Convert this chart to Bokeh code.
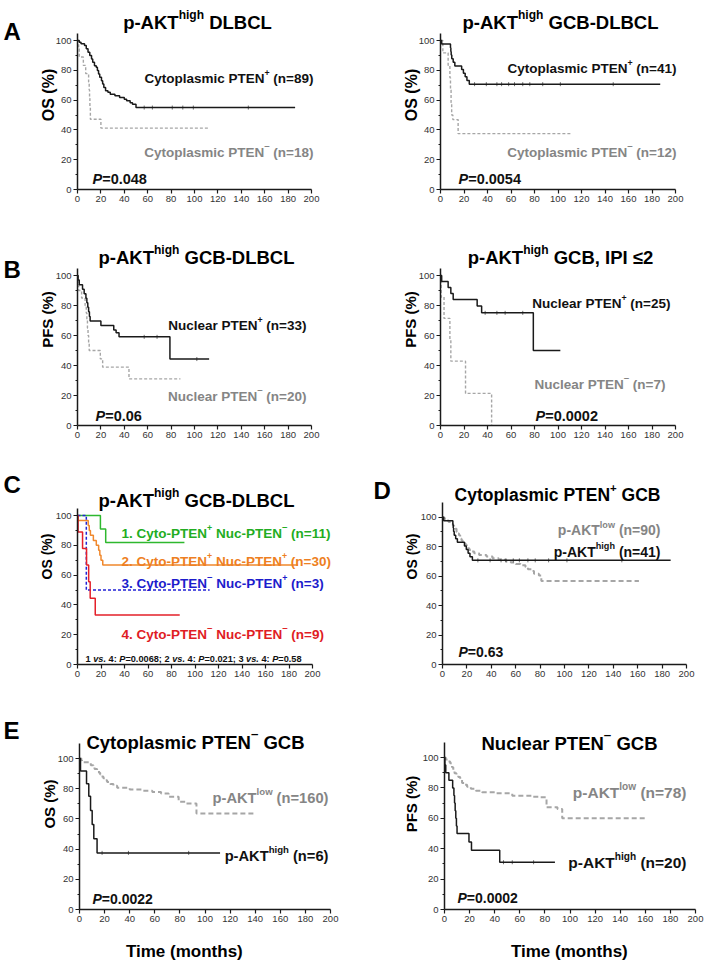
import math
from bokeh.plotting import figure
from bokeh.models import Range1d, FixedTicker, Label
from bokeh.layouts import row, column
from bokeh.embed import file_html
from bokeh.resources import INLINE

FONT = "Liberation Sans"

# ---------------- data ----------------
x_ticks = [0, 20, 40, 60, 80, 100, 120, 140, 160, 180, 200]
y_ticks = [0, 20, 40, 60, 80, 100]
y_minor = [10, 30, 50, 70, 90]

# A left: p-AKT high DLBCL, OS
a1_pos_t = [0, 1.5, 3, 6, 7.5, 9, 10.5, 12, 13, 14.5, 16, 17, 18, 19, 20.5, 21.5, 22.5, 24, 26, 28, 32, 36, 40, 42, 45, 47, 50, 186]
a1_pos_s = [100, 98.9, 97.8, 96.6, 94.4, 92.1, 89.9, 87.6, 85.4, 83.1, 82.0, 79.8, 77.5, 75.3, 73.0, 70.8, 68.5, 66.3, 65.2, 64.0, 62.9, 61.8, 60.6, 59.5, 58.3, 57.2, 55.0, 55.0]
a1_pos_cens = [57, 64, 81, 90, 99, 146]
a1_neg_t = [0, 1, 1.5, 5, 7, 9.5, 10, 10.3, 10.6, 11, 20, 112]
a1_neg_s = [100, 94.4, 88.9, 83.3, 77.8, 72.2, 66.7, 61.1, 55.6, 47.1, 41.2, 41.2]

# A right / D: p-AKT high, cytoplasmic PTEN+ GCB (n=41)
cpos_hi_t = [0, 1, 8.5, 8.8, 9.1, 9.6, 10.8, 12.2, 18, 19.5, 21, 22.5, 24.5, 187]
cpos_hi_s = [100, 97.6, 95.1, 92.7, 90.2, 87.8, 85.4, 82.9, 80.5, 78.0, 75.6, 73.2, 70.7, 70.7]
cpos_hi_cens = [29, 39, 48, 52, 58, 63, 70, 76, 87, 102, 147]
a2_neg_t = [0, 2, 6.5, 8, 8.5, 9, 9.5, 10.5, 15, 112]
a2_neg_s = [100, 91.7, 83.3, 75.0, 66.7, 58.3, 50.0, 46.9, 37.5, 37.5]

# B left: p-AKT high GCB, PFS
b1_pos_t = [0, 0.5, 1.5, 4.3, 5.7, 7.2, 8, 8.8, 9.5, 10.2, 10.8, 20, 31, 33, 35.5, 79, 112.5]
b1_pos_s = [100, 97.0, 93.9, 90.9, 87.9, 84.8, 81.8, 78.8, 75.8, 72.7, 69.7, 66.7, 63.6, 61.9, 59.1, 44.3, 44.3]
b1_pos_cens = [57, 68, 102]
# p-AKT high, nuclear PTEN- GCB (n=20): B left grey and E right black
nneg_hi_t = [0, 0.3, 1, 3.5, 6.5, 7.5, 8, 8.5, 9, 9.5, 10, 19.5, 21.5, 44, 88]
nneg_hi_s = [100, 95, 90, 85, 80, 75, 70, 65, 60, 55, 50, 44.4, 38.9, 31.1, 31.1]
nneg_hi_cens = [47, 54, 71]

# B right: p-AKT high GCB, IPI <=2, PFS
b2_pos_t = [0, 1, 6.5, 8.8, 10.8, 31.2, 35, 79, 102]
b2_pos_s = [100, 96, 92, 88, 84, 79.6, 75.1, 50, 50]
b2_pos_cens = [38, 48, 55, 70]
b2_neg_t = [0, 0.5, 3, 8, 8.8, 21.3, 43.5]
b2_neg_s = [100, 85.7, 71.4, 57.1, 42.9, 21.4, 0]

# C: four groups
c1_t = [0, 19.5, 24, 91]
c1_s = [100, 90.9, 81.8, 81.8]
c2_t = [0, 0.5, 9.1, 10, 11, 13.5, 16, 18, 19, 20, 21.5, 187.5]
c2_s = [100, 96.7, 93.3, 90.0, 86.7, 83.3, 80.0, 76.7, 73.3, 70.0, 66.7, 66.7]
c3_t = [0, 7.5, 112.5]
c3_s = [100, 50, 50]
c4_t = [0, 0.5, 4.3, 7.7, 9.5, 10.8, 15.1, 87]
c4_s = [100, 88.9, 77.8, 66.7, 55.6, 44.4, 33.3, 33.3]

# D: p-AKT low, cytoplasmic PTEN+ GCB (n=90)
d_low_t = [0, 1.5, 3, 5, 7, 8.5, 9.5, 10.5, 11.5, 12.5, 13.5, 14.5, 15.5, 16.5, 17.5, 19, 20, 21, 22, 24, 26, 30, 36, 41, 46, 52, 56, 60, 64, 68, 70, 73, 75, 79, 81, 161]
d_low_s = [100, 98.9, 97.8, 96.7, 95.6, 94.4, 93.3, 92.2, 90.0, 88.9, 87.8, 85.6, 84.4, 83.3, 82.2, 81.1, 80.0, 78.9, 77.8, 76.7, 75.6, 74.4, 73.3, 72.2, 71.1, 70.0, 69.2, 68.2, 67.3, 66.2, 64.6, 63.4, 61.6, 60.4, 56.6, 56.6]

# E left: cytoplasmic PTEN- GCB
e1_hi_t = [0, 0.8, 5.6, 7.4, 8.8, 10.1, 11.4, 14, 112]
e1_hi_s = [100, 91.7, 83.3, 75.0, 65.6, 56.3, 46.9, 37.5, 37.5]
e1_hi_cens = [18, 39, 87]
e1_low_t = [0, 1.5, 2, 7.5, 9, 11, 12, 14, 15.5, 16.5, 17.5, 19, 20.5, 22, 24.5, 27, 30, 40, 50, 58, 65, 71, 79, 85, 93.2, 139]
e1_low_s = [100, 98.8, 97.5, 96.9, 95.6, 94.4, 93.1, 91.9, 90.6, 89.4, 88.1, 86.9, 85.6, 84.4, 83.1, 81.9, 80.6, 79.4, 78.7, 77.8, 76.9, 74.6, 71.3, 70.2, 63.5, 63.5]

# E right: nuclear PTEN- GCB
e2_low_t = [0, 1, 3, 4.5, 6, 7, 8, 9.5, 11, 12.5, 14, 16, 18, 21, 25, 30, 40, 54, 70, 76, 81.3, 90, 93.8, 161.5]
e2_low_s = [100, 98.7, 97.4, 96.2, 93.6, 91.0, 89.7, 88.5, 87.2, 85.9, 83.3, 82.0, 80.8, 79.5, 78.2, 77.1, 76.4, 74.9, 74.2, 73.8, 67.2, 66.2, 60.0, 60.0]

# ---------------- styling helpers ----------------
BLACK = "#1a1a1a"
GREY_LINE = "#a6a6a6"
GREY_TEXT = "#858585"
GREEN = "#2eb82e"
ORANGE = "#f0882c"
BLUE = "#2222d6"
RED = "#e4202a"

BOLD_W = {' ': 278, '%': 889, '(': 333, ')': 333, '+': 584, ',': 278, '-': 333, '.': 278,
          ':': 333, ';': 333, '=': 584, '\u2264': 549, '\u2013': 556,
          'A': 722, 'B': 722, 'C': 722, 'D': 722, 'E': 667, 'F': 611, 'G': 778, 'H': 722, 'I': 278,
          'K': 722, 'L': 611, 'M': 833, 'N': 722, 'O': 778, 'P': 667, 'S': 667, 'T': 611, 'U': 722,
          'a': 556, 'b': 611, 'c': 556, 'd': 611, 'e': 556, 'f': 333, 'g': 611, 'h': 611, 'i': 278,
          'k': 556, 'l': 278, 'm': 889, 'n': 611, 'o': 611, 'p': 611, 'r': 389, 's': 556, 't': 333,
          'u': 611, 'v': 556, 'w': 778, 'y': 556}
for d in "0123456789":
    BOLD_W[d] = 556


def tw(s, size):
    return sum(BOLD_W.get(ch, 556) for ch in s) * size / 1000.0


def parse(markup):
    segs = []
    buf = ""
    i = 0
    while i < len(markup):
        ch = markup[i]
        if ch == "^":
            if buf:
                segs.append((buf, "n")); buf = ""
            nxt = markup[i + 1]
            if nxt == "{":
                j = markup.index("}", i)
                segs.append((markup[i + 2:j], "sup"))
                i = j + 1
                continue
            elif nxt == "+":
                segs.append(("+", "sup"))
            else:
                segs.append(("\u2013", "dash"))
            i += 2
            continue
        if ch == "*":
            if buf:
                segs.append((buf, "n")); buf = ""
            j = markup.index("*", i + 1)
            segs.append((markup[i + 1:j], "it"))
            i = j + 1
            continue
        buf += ch
        i += 1
    if buf:
        segs.append((buf, "n"))
    return segs


def rich(P, markup, x, base, size, color, align="left"):
    """x, base are page pixel positions; converted to the panel's own data units."""
    items = []
    for txt, kind in parse(markup):
        if kind == "sup":
            sz, rise = size * 0.65, size * 0.40
        elif kind == "dash":
            sz, rise = size * 0.72, size * 0.50
        else:
            sz, rise = size, 0.0
        items.append((txt, kind, sz, rise, tw(txt, sz)))
    total = sum(it[4] for it in items)
    if align == "center":
        cur = x - total / 2.0
    elif align == "right":
        cur = x - total
    else:
        cur = x
    for txt, kind, sz, rise, w in items:
        lead = len(txt) - len(txt.lstrip(" "))
        t = txt.strip(" ")
        if t:
            P["p"].add_layout(Label(
                x=P["dx"](cur + tw(" " * lead, sz)), y=P["dy"](base - rise), text=t,
                text_font=FONT, text_font_size="%.1fpx" % sz,
                text_font_style="bold italic" if kind == "it" else "bold",
                text_color=color, text_align="left", text_baseline="alphabetic"))
        cur += w


def make_panel(fx, fy, fw, fh, left, x200, bottom, y100, ytop, ylabel, ylsize, ylstand):
    xr_end = 200.0 * (fx + fw - left) / (x200 - left)
    yr_end = 100.0 * (bottom - fy) / (bottom - y100)
    p = figure(width=fw, height=fh, x_range=Range1d(0, xr_end), y_range=Range1d(0, yr_end),
               output_backend="svg", toolbar_location=None,
               min_border_left=left - fx, min_border_right=0,
               min_border_top=0, min_border_bottom=fy + fh - bottom)
    p.outline_line_color = None
    p.grid.visible = False
    p.background_fill_color = "white"
    p.border_fill_color = "white"
    for ax in (p.xaxis[0], p.yaxis[0]):
        ax.axis_line_width = 1.5
        ax.axis_line_color = BLACK
        ax.major_tick_line_color = BLACK
        ax.major_tick_line_width = 1.2
        ax.minor_tick_line_color = BLACK
        ax.major_tick_out = 4
        ax.major_tick_in = 0
        ax.minor_tick_out = 2
        ax.minor_tick_in = 0
        ax.major_label_text_font = FONT
        ax.major_label_text_font_size = "9.5px"
        ax.major_label_text_color = "#333333"
        ax.major_label_standoff = 2
    p.xaxis.ticker = FixedTicker(ticks=x_ticks)
    p.xaxis.minor_tick_line_color = None
    p.xaxis.bounds = (0, 200)
    p.yaxis.ticker = FixedTicker(ticks=y_ticks, minor_ticks=y_minor)
    p.yaxis.bounds = (0, ytop)
    p.yaxis.axis_label = ylabel
    p.yaxis.axis_label_text_font = FONT
    p.yaxis.axis_label_text_font_style = "bold"
    p.yaxis.axis_label_text_font_size = "%dpx" % ylsize
    p.yaxis.axis_label_text_color = "black"
    p.yaxis.axis_label_standoff = ylstand
    return dict(p=p,
                dx=lambda px: (px - left) / (x200 - left) * 200.0,
                dy=lambda py: (bottom - py) / (bottom - y100) * 100.0)


def make_strip(fx, fy, fw, fh):
    p = figure(width=fw, height=fh, x_range=Range1d(0, fw), y_range=Range1d(0, fh),
               x_axis_type=None, y_axis_type=None, output_backend="svg",
               toolbar_location=None, min_border=0)
    p.outline_line_color = None
    p.background_fill_color = "white"
    p.border_fill_color = "white"
    return dict(p=p, dx=lambda px: px - fx, dy=lambda py: (fy + fh) - py)


def km(P, t, s, color, width=1.5, dash="solid", cens=None):
    P["p"].step(t, s, mode="after", line_color=color, line_width=width, line_dash=dash)
    if cens:
        ys = []
        for c in cens:
            v = s[0]
            for ti, si in zip(t, s):
                if ti <= c:
                    v = si
            ys.append(v)
        P["p"].scatter(cens, ys, marker="dash", angle=math.pi / 2, size=4,
                       line_color=color, line_width=0.8, line_alpha=0.8)


# ---------------- row A ----------------
LA = make_strip(0, 0, 26, 213)
rich(LA, "A", 3, 35, 24, "black")

A1 = make_panel(26, 0, 327, 213, 77, 311, 189, 40, 105, "OS (%)", 16, -4)
km(A1, a1_neg_t, a1_neg_s, GREY_LINE, 1.4, "3 2")
km(A1, a1_pos_t, a1_pos_s, BLACK, 1.5, cens=a1_pos_cens)
rich(A1, "p-AKT^{high} DLBCL", 197, 22, 18.5, "black", "center")
rich(A1, "Cytoplasmic PTEN^+ (n=89)", 313, 78, 13.5, "#111111", "right")
rich(A1, "Cytoplasmic PTEN^- (n=18)", 313, 152, 13.5, GREY_TEXT, "right")
rich(A1, "*P*=0.048", 92, 178, 14.5, "#111111")

A2 = make_panel(353, 0, 353, 213, 440, 675, 189, 40, 105, "OS (%)", 16, -4)
km(A2, a2_neg_t, a2_neg_s, GREY_LINE, 1.4, "3 2")
km(A2, cpos_hi_t, cpos_hi_s, BLACK, 1.5, cens=cpos_hi_cens)
rich(A2, "p-AKT^{high} GCB-DLBCL", 560, 22, 18.5, "black", "center")
rich(A2, "Cytoplasmic PTEN^+ (n=41)", 676, 68, 13.5, "#111111", "right")
rich(A2, "Cytoplasmic PTEN^- (n=12)", 676, 152, 13.5, GREY_TEXT, "right")
rich(A2, "*P*=0.0054", 458, 178, 14.5, "#111111")

# ---------------- row B ----------------
LB = make_strip(0, 213, 26, 235)
rich(LB, "B", 3, 275, 24, "black")

B1 = make_panel(26, 213, 327, 235, 77, 311, 425, 275, 105, "PFS (%)", 15, -3)
km(B1, nneg_hi_t, nneg_hi_s, GREY_LINE, 1.4, "3 2")
km(B1, b1_pos_t, b1_pos_s, BLACK, 1.5, cens=b1_pos_cens)
rich(B1, "p-AKT^{high} GCB-DLBCL", 196, 257, 18.5, "black", "center")
rich(B1, "Nuclear PTEN^+ (n=33)", 306, 325, 13.5, "#111111", "right")
rich(B1, "Nuclear PTEN^- (n=20)", 306, 396, 13.5, GREY_TEXT, "right")
rich(B1, "*P*=0.06", 95, 415, 14.5, "#111111")

B2 = make_panel(353, 213, 353, 235, 440, 675, 425, 275, 105, "PFS (%)", 15, -3)
km(B2, b2_neg_t, b2_neg_s, GREY_LINE, 1.4, "3 2")
km(B2, b2_pos_t, b2_pos_s, BLACK, 1.5, cens=b2_pos_cens)
rich(B2, "p-AKT^{high} GCB, IPI \u22642", 560, 257, 18.5, "black", "center")
rich(B2, "Nuclear PTEN^+ (n=25)", 670, 303, 13.5, "#111111", "right")
rich(B2, "Nuclear PTEN^- (n=7)", 665, 384, 13.5, GREY_TEXT, "right")
rich(B2, "*P*=0.0002", 535, 415, 14.5, "#111111")

# ---------------- row C / D ----------------
LC = make_strip(0, 448, 26, 250)
rich(LC, "C", 3, 490, 24, "black")

C = make_panel(26, 448, 327, 250, 77, 312, 664, 515, 105, "OS (%)", 14, -2)
km(C, c1_t, c1_s, GREEN, 1.5)
km(C, c2_t, c2_s, ORANGE, 1.5)
km(C, c3_t, c3_s, BLUE, 1.5, "3 2")
km(C, c4_t, c4_s, RED, 1.5)
rich(C, "p-AKT^{high} GCB-DLBCL", 196, 500, 18.5, "black", "center")
rich(C, "1. Cyto-PTEN^+ Nuc-PTEN^- (n=11)", 121, 533, 13.5, "#22ad22")
rich(C, "2. Cyto-PTEN^+ Nuc-PTEN^+ (n=30)", 121, 561, 13.5, "#ee7f22")
rich(C, "3. Cyto-PTEN^- Nuc-PTEN^+ (n=3)", 121, 583, 13.5, "#1c1ccc")
rich(C, "4. Cyto-PTEN^- Nuc-PTEN^- (n=9)", 121, 634, 13.5, "#e01c24")
rich(C, "1 *vs.* 4: *P*=0.0068; 2 *vs.* 4: *P*=0.021; 3 *vs.* 4: *P*=0.58", 85, 658, 9.2, "#111111")

LD = make_strip(353, 448, 42, 250)
rich(LD, "D", 373, 497, 24, "black")

D = make_panel(395, 448, 311, 250, 442, 686, 665, 517, 110, "OS (%)", 14, -2)
km(D, d_low_t, d_low_s, GREY_LINE, 2, "5 3")
km(D, cpos_hi_t, cpos_hi_s, BLACK, 1.5, cens=cpos_hi_cens)
rich(D, "Cytoplasmic PTEN^+ GCB", 557, 495, 17.5, "black", "center")
rich(D, "p-AKT^{low} (n=90)", 660, 530, 14, GREY_TEXT, "right")
rich(D, "p-AKT^{high} (n=41)", 660, 552, 14, "#111111", "right")
rich(D, "*P*=0.63", 458, 652, 14, "#111111")

# ---------------- row E ----------------
LE = make_strip(0, 698, 26, 231)
rich(LE, "E", 3, 733, 24, "black")

E1 = make_panel(26, 698, 327, 231, 79, 330, 909, 758, 110, "OS (%)", 15, -3)
km(E1, e1_low_t, e1_low_s, GREY_LINE, 2, "5 3")
km(E1, e1_hi_t, e1_hi_s, BLACK, 1.5, cens=e1_hi_cens)
rich(E1, "Cytoplasmic PTEN^- GCB", 195, 742, 18.5, "black", "center")
rich(E1, "p-AKT^{low} (n=160)", 328, 797, 14.7, GREY_TEXT, "right")
rich(E1, "p-AKT^{high} (n=6)", 328, 855, 14.7, "#111111", "right")
rich(E1, "*P*=0.0022", 92, 898, 14, "#111111")

E2 = make_panel(353, 698, 353, 231, 444, 695, 909, 757, 110, "PFS (%)", 15, 0)
km(E2, e2_low_t, e2_low_s, GREY_LINE, 2, "5 3")
km(E2, nneg_hi_t, nneg_hi_s, BLACK, 1.5, cens=nneg_hi_cens)
rich(E2, "Nuclear PTEN^- GCB", 569, 743, 18.5, "black", "center")
rich(E2, "p-AKT^{low} (n=78)", 686, 792, 15.5, GREY_TEXT, "right")
rich(E2, "p-AKT^{high} (n=20)", 686, 862, 15.5, "#111111", "right")
rich(E2, "*P*=0.0002", 457, 897, 14, "#111111")

TS = make_strip(0, 929, 706, 32)
rich(TS, "Time (months)", 184, 951, 17, "black", "center")
rich(TS, "Time (months)", 569, 951, 17, "black", "center")

layout = column(
    row(LA["p"], A1["p"], A2["p"]),
    row(LB["p"], B1["p"], B2["p"]),
    row(LC["p"], C["p"], LD["p"], D["p"]),
    row(LE["p"], E1["p"], E2["p"]),
    TS["p"],
)

open("out.html", "w").write(file_html(layout, INLINE))
